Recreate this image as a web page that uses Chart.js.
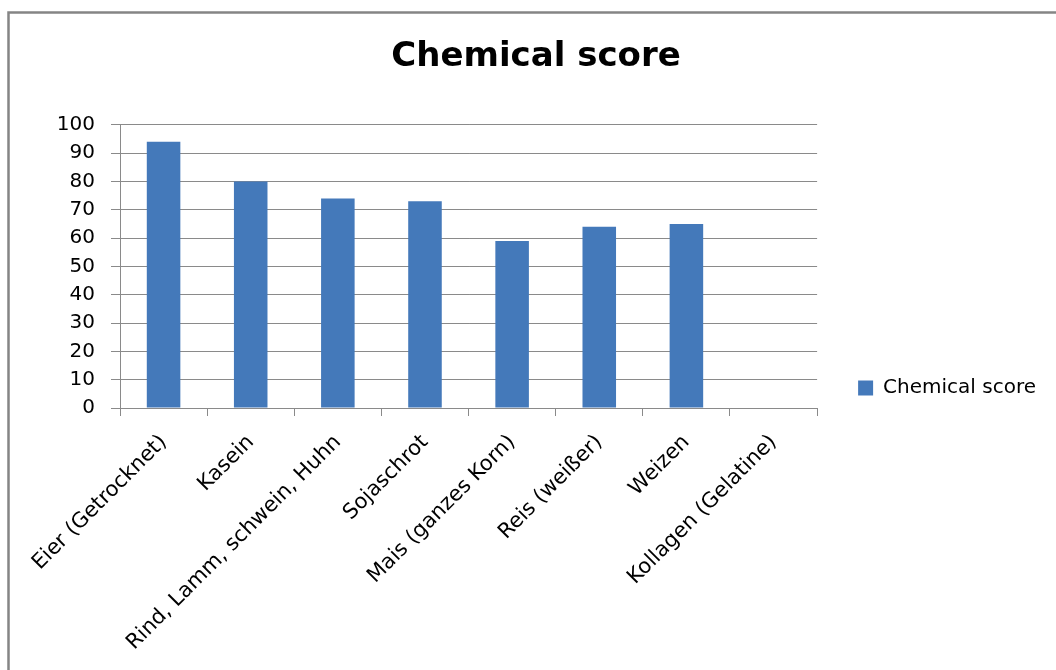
<!DOCTYPE html>
<html>
<head>
<meta charset="utf-8">
<title>Chemical score</title>
<script src="https://cdn.jsdelivr.net/npm/chart.js@4/dist/chart.umd.min.js"></script>
<style>
  html, body { margin: 0; padding: 0; background: #ffffff; }
  #wrap { width: 1056px; height: 670px; position: relative; }
</style>
</head>
<body>
<div id="wrap"><canvas id="chart" width="1056" height="670"></canvas></div>
<script>
// Protein sources and their chemical score
const categories = [
  'Eier (Getrocknet)',
  'Kasein',
  'Rind, Lamm, schwein, Huhn',
  'Sojaschrot',
  'Mais (ganzes Korn)',
  'Reis (weißer)',
  'Weizen',
  'Kollagen (Gelatine)'
];
const scores = [94, 80, 74, 73, 59, 64, 65, 0];
const yTicks = [0, 10, 20, 30, 40, 50, 60, 70, 80, 90, 100];

const seriesName = 'Chemical score';
const titleText = 'Chemical score';

const FONT = "'DejaVu Sans', sans-serif";
const GRID = '#8a8a8a';

// Outer frame of the chart panel
const framePlugin = {
  id: 'frame',
  beforeDraw(chart) {
    const ctx = chart.ctx;
    ctx.save();
    ctx.fillStyle = '#ffffff';
    ctx.fillRect(0, 0, chart.width, chart.height);
    ctx.strokeStyle = '#858585';
    ctx.lineWidth = 2.5;
    ctx.strokeRect(8.5, 12.5, chart.width + 20, chart.height + 20);
    ctx.restore();
  }
};

// Nudge the title right and the legend entry down after layout
const boxShift = {
  id: 'boxShift',
  afterLayout(chart) {
    const lg = chart.legend;
    if (lg) {
      lg.top += 53;
      lg.bottom += 53;
    }
    const tb = chart.titleBlock;
    if (tb) {
      tb.left += 13;
      tb.right += 13;
    }
  }
};

new Chart(document.getElementById('chart'), {
  type: 'bar',
  data: {
    labels: categories,
    datasets: [{
      label: seriesName,
      data: scores,
      backgroundColor: '#4479BA',
      borderWidth: 0,
      barPercentage: 0.385,
      categoryPercentage: 1.0
    }]
  },
  options: {
    responsive: false,
    animation: false,
    devicePixelRatio: 1,
    layout: { padding: { left: 0, right: 10, top: 0, bottom: 0 } },
    plugins: {
      title: {
        display: true,
        text: titleText,
        color: '#000000',
        font: { family: FONT, size: 34, weight: 'bold', lineHeight: 1.2 },
        padding: { top: 37, bottom: 47 }
      },
      legend: {
        display: true,
        position: 'right',
        labels: {
          boxWidth: 15,
          boxHeight: 15,
          padding: 41,
          color: '#000000',
          font: { family: FONT, size: 20 }
        }
      },
      tooltip: { enabled: false }
    },
    scales: {
      x: {
        offset: true,
        grid: {
          display: true,
          offset: true,
          drawOnChartArea: false,
          drawTicks: true,
          tickLength: 8,
          color: GRID
        },
        border: { display: true, color: GRID, width: 1 },
        ticks: {
          autoSkip: false,
          minRotation: 45,
          maxRotation: 45,
          padding: 14,
          color: '#000000',
          font: { family: FONT, size: 21 }
        },
        afterFit(scale) { scale.height = 262; }
      },
      y: {
        min: 0,
        max: 100,
        afterBuildTicks(scale) {
          scale.ticks = yTicks.map(v => ({ value: v }));
        },
        grid: {
          color: GRID,
          drawTicks: true,
          tickLength: 9,
          lineWidth: 1
        },
        border: { display: true, color: GRID, width: 1 },
        ticks: {
          padding: 16,
          color: '#000000',
          font: { family: FONT, size: 20 }
        },
        afterFit(scale) { scale.width = 120; }
      }
    }
  },
  plugins: [framePlugin, boxShift]
});
</script>
</body>
</html>
